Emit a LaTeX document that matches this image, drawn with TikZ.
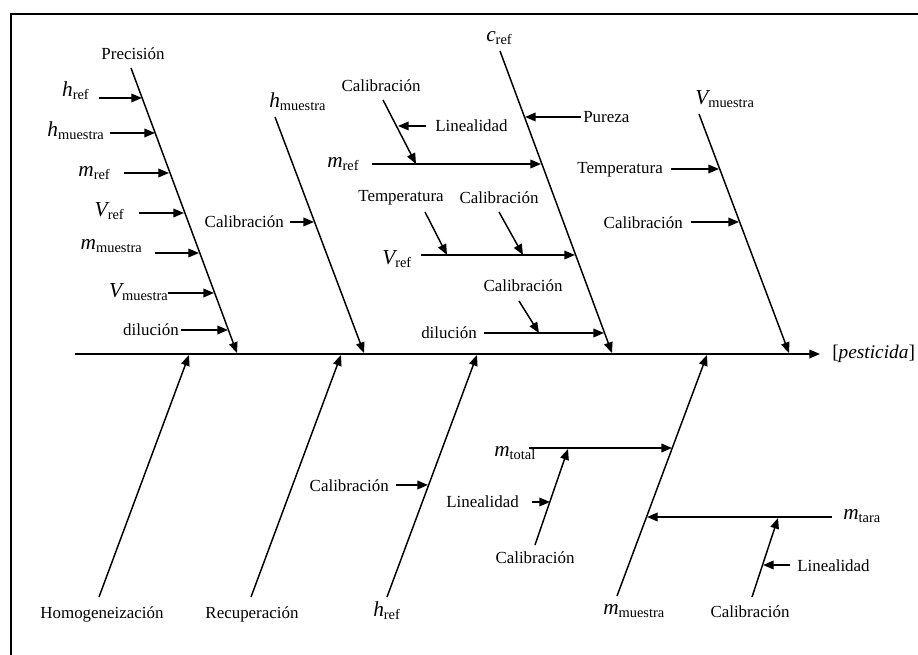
\documentclass[tikz,border=0pt]{standalone}
\usepackage{fontspec}
\setmainfont{Liberation Serif}
\usetikzlibrary{arrows.meta}
% italic quantity with an upright subscript
\newcommand{\qty}[2]{{\fontsize{16}{18}\selectfont\itshape #1}\raisebox{-0.45ex}{\fontsize{10.8}{12}\selectfont #2}}
\begin{document}
\begin{tikzpicture}[x=0.75pt,y=-0.75pt,
  arr/.style={line width=1.1pt,-{Triangle[length=8pt,width=6.5pt]}},
  lbl/.style={font=\fontsize{12.7}{14}\selectfont,inner sep=0pt},
  var/.style={inner sep=0pt},
  eff/.style={font=\fontsize{14.5}{17}\selectfont,inner sep=0pt}]
\useasboundingbox (0,0) rectangle (918,655);
% frame
\coordinate (fr0) at (918,14);
\coordinate (fr1) at (11,14);
\coordinate (fr2) at (11,655);
\draw[line width=1.2pt] (fr0) -- (fr1) -- (fr2);

% spine and effect
\coordinate (sp0) at (75,354);
\coordinate (sp1) at (820,354);
\draw[arr] (sp0) -- (sp1);
\node[eff,anchor=west] (effect) at (832,354) {[\textit{pesticida}]};

% ---- bone 1: Precision
\node[lbl] (prec) at (133,54) {Precisión};
\coordinate (b1a) at (131,68);
\coordinate (b1b) at (237,353);
\draw[arr] (b1a) -- (b1b);
\node[var,anchor=base east] (p1) at (89,97) {\qty{h}{ref}};
\node[var,anchor=base east] (p2) at (104,137) {\qty{h}{muestra}};
\node[var,anchor=base east] (p3) at (110,177) {\qty{m}{ref}};
\node[var,anchor=base east] (p4) at (124,217) {\qty{V}{ref}};
\node[var,anchor=base east] (p5) at (142,250) {\qty{m}{muestra}};
\node[var,anchor=base east] (p6) at (168,298) {\qty{V}{muestra}};
\node[lbl,anchor=east] (p7) at (179,330) {dilución};
\coordinate (p1s) at (99,98);   \coordinate (p1e) at (142,98);
\coordinate (p2s) at (110,133); \coordinate (p2e) at (155,133);
\coordinate (p3s) at (124,173); \coordinate (p3e) at (169,173);
\coordinate (p4s) at (139,213); \coordinate (p4e) at (184,213);
\coordinate (p5s) at (155,253); \coordinate (p5e) at (199,253);
\coordinate (p6s) at (168,293); \coordinate (p6e) at (214,293);
\coordinate (p7s) at (181,330); \coordinate (p7e) at (228,330);
\foreach \i in {1,...,7} \draw[arr] (p\i s) -- (p\i e);

% ---- bone 2: h_muestra
\node[var,anchor=base west] (hm) at (269,108) {\qty{h}{muestra}};
\coordinate (b2a) at (275,117);
\coordinate (b2b) at (364,353);
\draw[arr] (b2a) -- (b2b);
\node[lbl,anchor=east] (hmcal) at (284,222) {Calibración};
\coordinate (hmcs) at (290,222); \coordinate (hmce) at (314,222);
\draw[arr] (hmcs) -- (hmce);

% ---- bone 3: c_ref
\node[var,anchor=base west] (cref) at (486,42) {\qty{c}{ref}};
\coordinate (b3a) at (500,51);
\coordinate (b3b) at (612,353);
\draw[arr] (b3a) -- (b3b);
\node[lbl,anchor=west] (pur) at (583,117) {Pureza};
\coordinate (purs) at (581,117); \coordinate (pure) at (525,117);
\draw[arr] (purs) -- (pure);
% m_ref branch
\node[var,anchor=base west] (mref) at (327,168) {\qty{m}{ref}};
\coordinate (mrs) at (372,164); \coordinate (mre) at (541,164);
\draw[arr] (mrs) -- (mre);
\node[lbl] (mrcal) at (381,86) {Calibración};
\coordinate (mrcs) at (383,100); \coordinate (mrce) at (416,164);
\draw[arr] (mrcs) -- (mrce);
\node[lbl,anchor=west] (mrlin) at (435,126) {Linealidad};
\coordinate (mrls) at (426,126); \coordinate (mrle) at (398,126);
\draw[arr] (mrls) -- (mrle);
% V_ref branch
\node[var,anchor=base west] (vref) at (382,265) {\qty{V}{ref}};
\coordinate (vrs) at (421,255); \coordinate (vre) at (575,255);
\draw[arr] (vrs) -- (vre);
\node[lbl] (vrtem) at (401,198) {Temperatura};
\coordinate (vrts) at (425,212); \coordinate (vrte) at (447,255);
\draw[arr] (vrts) -- (vrte);
\node[lbl] (vrcal) at (499,198) {Calibración};
\coordinate (vrcs) at (499,212); \coordinate (vrce) at (523,255);
\draw[arr] (vrcs) -- (vrce);
% dilucion branch
\node[lbl] (dil) at (449,333) {dilución};
\coordinate (dls) at (484,333); \coordinate (dle) at (604,333);
\draw[arr] (dls) -- (dle);
\node[lbl] (dlcal) at (523,286) {Calibración};
\coordinate (dlcs) at (519,301); \coordinate (dlce) at (539,333);
\draw[arr] (dlcs) -- (dlce);

% ---- bone 4: V_muestra
\node[var,anchor=base west] (vm) at (695,105) {\qty{V}{muestra}};
\coordinate (b4a) at (699,114);
\coordinate (b4b) at (789,353);
\draw[arr] (b4a) -- (b4b);
\node[lbl,anchor=east] (vmtem) at (663,170) {Temperatura};
\coordinate (vmts) at (671,169); \coordinate (vmte) at (719,169);
\draw[arr] (vmts) -- (vmte);
\node[lbl,anchor=east] (vmcal) at (683,223) {Calibración};
\coordinate (vmcs) at (691,222); \coordinate (vmce) at (739,222);
\draw[arr] (vmcs) -- (vmce);

% ---- bone 5: Homogeneizacion
\node[lbl] (hom) at (102,614) {Homogeneización};
\coordinate (b5a) at (99,597);
\coordinate (b5b) at (189,355);
\draw[arr] (b5a) -- (b5b);

% ---- bone 6: Recuperacion
\node[lbl] (rec) at (252,614) {Recuperación};
\coordinate (b6a) at (251,597);
\coordinate (b6b) at (341,355);
\draw[arr] (b6a) -- (b6b);

% ---- bone 7: h_ref
\node[var,anchor=base west] (href) at (373,617) {\qty{h}{ref}};
\coordinate (b7a) at (387,597);
\coordinate (b7b) at (477,355);
\draw[arr] (b7a) -- (b7b);
\node[lbl,anchor=east] (hrcal) at (389,486) {Calibración};
\coordinate (hrcs) at (396,485); \coordinate (hrce) at (428,485);
\draw[arr] (hrcs) -- (hrce);

% ---- bone 8: m_muestra
\node[var,anchor=base west] (mm) at (603,615) {\qty{m}{muestra}};
\coordinate (b8a) at (617,596);
\coordinate (b8b) at (707,355);
\draw[arr] (b8a) -- (b8b);
% m_total branch
\node[var,anchor=base west] (mtot) at (494,457) {\qty{m}{total}};
\coordinate (mts) at (529,448); \coordinate (mte) at (672,448);
\draw[arr] (mts) -- (mte);
\node[lbl] (mtcal) at (535,558) {Calibración};
\coordinate (mtcs) at (535,545); \coordinate (mtce) at (568,449);
\draw[arr] (mtcs) -- (mtce);
\node[lbl,anchor=east] (mtlin) at (519,502) {Linealidad};
\coordinate (mtls) at (532,502); \coordinate (mtle) at (550,502);
\draw[arr] (mtls) -- (mtle);
% m_tara branch
\node[var,anchor=base west] (mtar) at (843,520) {\qty{m}{tara}};
\coordinate (mas) at (832,517); \coordinate (mae) at (647,517);
\draw[arr] (mas) -- (mae);
\node[lbl] (macal) at (750,612) {Calibración};
\coordinate (macs) at (752,597); \coordinate (mace) at (778,518);
\draw[arr] (macs) -- (mace);
\node[lbl,anchor=west] (malin) at (797,566) {Linealidad};
\coordinate (mals) at (790,565); \coordinate (male) at (763,565);
\draw[arr] (mals) -- (male);
\end{tikzpicture}
\end{document}
